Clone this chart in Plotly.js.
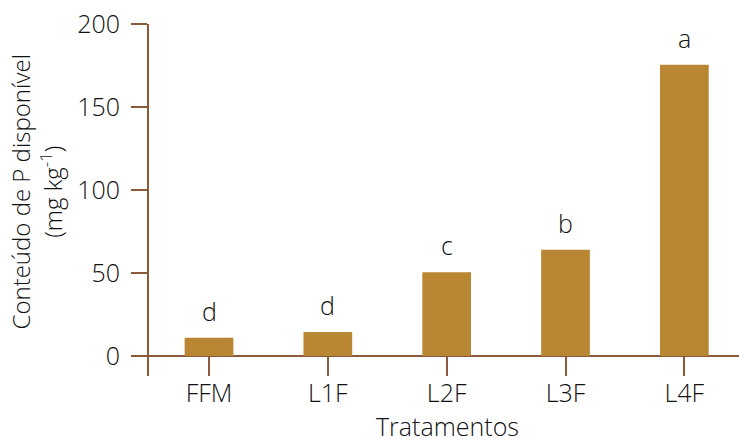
<!DOCTYPE html>
<html>
<head>
<meta charset="utf-8">
<script src="https://cdn.plot.ly/plotly-3.0.1.min.js"></script>
<style>html,body{margin:0;padding:0;background:#fff;}#chart{width:739px;height:439px;}</style>
</head>
<body>
<div id="chart"></div>
<script>
const categories = ["FFM", "L1F", "L2F", "L3F", "L4F"];
const values = [11, 14.5, 50.5, 64, 175.5];
const letters = ["d", "d", "c", "b", "a"];
const yTicks = [0, 50, 100, 150, 200];
const xTitle = "Tratamentos";
const yTitle = "Conteúdo de P disponível<br>(mg kg<sup>-1</sup>)";

const barColor = "#b98734";
const axisColor = "#8b5a3a";
const fontFam = "'Open Sans', Lato, sans-serif";
const txtColor = "#111111";
const fw = 350;

const trace = {
  type: "bar",
  x: categories,
  y: values,
  marker: {color: barColor},
  width: 0.41,
  hoverinfo: "none"
};

const annotations = categories.map((c, i) => ({
  x: c, y: values[i], xref: "x", yref: "y",
  text: letters[i], showarrow: false,
  yanchor: "bottom", yshift: 8,
  font: {family: fontFam, size: 25, color: txtColor, weight: fw}
}));
annotations.push({
  xref: "paper", yref: "paper", x: -0.1907, y: 0.5256,
  xanchor: "center", yanchor: "middle", textangle: -90,
  text: yTitle,
  showarrow: false,
  font: {family: fontFam, size: 24, color: txtColor, weight: fw}
});
annotations.push({
  xref: "paper", yref: "paper", x: 0.5051, y: -0.1410,
  xanchor: "center", yanchor: "middle",
  text: xTitle, showarrow: false,
  font: {family: fontFam, size: 25, color: txtColor, weight: fw}
});

const layout = {
  width: 739, height: 439,
  margin: {l: 149, r: 0, t: 24, b: 63, pad: 0},
  paper_bgcolor: "#fff", plot_bgcolor: "#fff",
  showlegend: false,
  font: {family: fontFam, size: 25, color: txtColor, weight: fw},
  xaxis: {
    type: "category",
    range: [-0.505, 4.46],
    showline: false, showgrid: false, zeroline: false,
    ticks: "inside", ticklen: 20, tickwidth: 2, tickcolor: axisColor,
    tickfont: {family: fontFam, size: 25, color: txtColor, weight: fw}
  },
  yaxis: {
    range: [-12.05, 200],
    tickvals: yTicks,
    ticks: "outside", ticklen: 16, tickwidth: 2, tickcolor: axisColor,
    showline: true, linecolor: axisColor, linewidth: 2,
    showgrid: false,
    zeroline: true, zerolinecolor: axisColor, zerolinewidth: 2,
    tickfont: {family: fontFam, size: 25, color: txtColor, weight: fw},
    ticklabelstandoff: 6
  },
  annotations: annotations
};

Plotly.newPlot("chart", [trace], layout, {displayModeBar: false, staticPlot: true});
</script>
</body>
</html>
